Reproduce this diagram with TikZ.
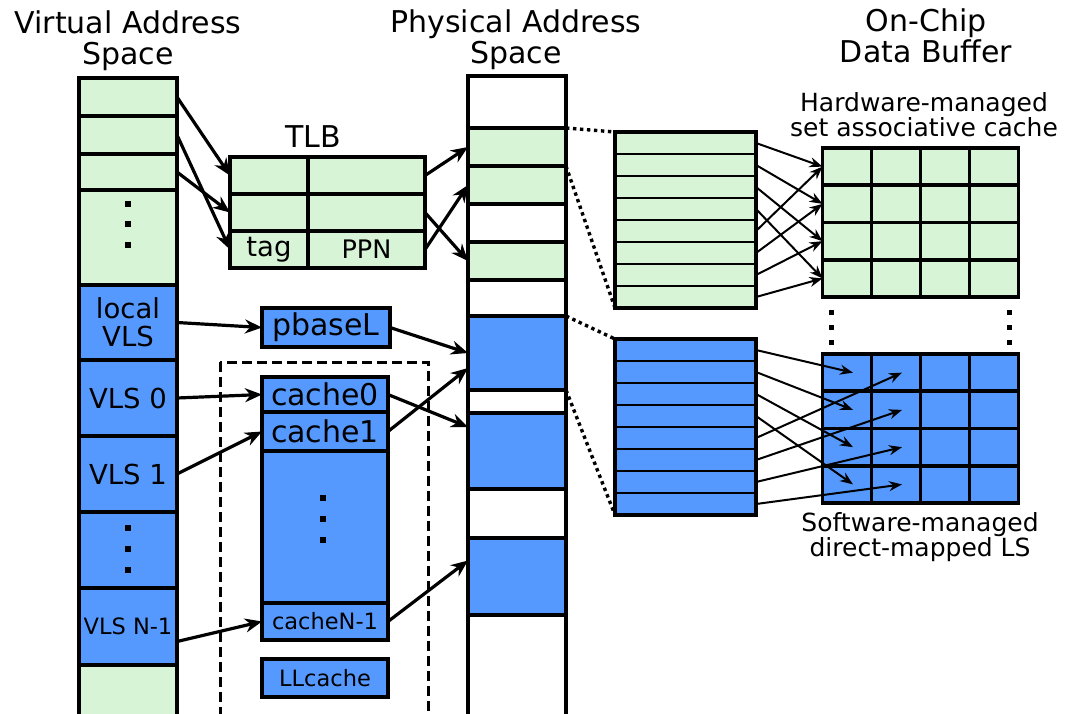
\documentclass[tikz,border=0pt]{standalone}
\usepackage{fontspec}
\setmainfont{DejaVu Sans}
\usetikzlibrary{
    positioning,      % For stacking the blocks of a column
    arrows.meta,      % For the arrow tips
    calc
}
\definecolor{cellgreen}{RGB}{215,244,215}
\definecolor{cellblue}{RGB}{85,153,255}

\begin{document}
\begin{tikzpicture}[
    x=1pt, y=-1pt,
    % Blocks of the columns, the TLB and the caches
    cell_style/.style={
        draw, line width=3.6pt,
        inner sep=0pt, outer sep=0pt,
        minimum width=98pt
    },
    green_cell/.style={cell_style, fill=cellgreen},
    blue_cell/.style={cell_style, fill=cellblue},
    white_cell/.style={cell_style, fill=white},
    % Rows of the on-chip buffers (thinner lines)
    buf_row/.style={
        draw, line width=2.2pt, inner sep=0pt, outer sep=0pt,
        minimum width=141pt, minimum height=22pt
    },
    grid_cell/.style={cell_style, minimum width=49pt, minimum height=37.25pt},
    % Text sizes
    title_font/.style={font=\fontsize{30}{31}\selectfont, align=center},
    sub_font/.style={font=\fontsize{25}{25}\selectfont, align=center},
    mid_font/.style={font=\fontsize{27.5}{28}\selectfont, align=center},
    small_font/.style={font=\fontsize{22.5}{23}\selectfont},
    % Connectors
    map_arrow/.style={
        line width=3.2pt,
        -{Stealth[length=17pt, width=14pt]}
    },
    grid_arrow/.style={
        line width=2pt,
        -{Stealth[length=13pt, width=10pt]}
    },
    zoom_line/.style={line width=3.4pt, dash pattern=on 3.4pt off 3.6pt},
    dashed_box/.style={line width=3pt, dash pattern=on 10pt off 5pt}
]
    \useasboundingbox (0,0) rectangle (1070,713);
    \clip (0,0) rectangle (1070,713);

    % 1. Titles (base = baseline of the last line)
    \node[title_font, anchor=base] (virt_title) at (128,64) {Virtual Address\\Space};
    \node[title_font, anchor=base] (phys_title) at (516,63) {Physical Address\\Space};
    \node[title_font, anchor=base] (chip_title) at (926,62) {On-Chip\\Data Buffer};

    % 2. Virtual address space column
    \node[green_cell, minimum height=38pt] (v1) at (128,97) {};
    \node[green_cell, minimum height=38pt, below=0pt of v1] (v2) {};
    \node[green_cell, minimum height=36pt, below=0pt of v2] (v3) {};
    \node[green_cell, minimum height=95pt, below=0pt of v3] (v4) {};
    \node[blue_cell, minimum height=75pt, below=0pt of v4, mid_font] (v5) {local\\VLS};
    \node[blue_cell, minimum height=76pt, below=0pt of v5, mid_font] (v6) {VLS 0};
    \node[blue_cell, minimum height=76pt, below=0pt of v6, mid_font] (v7) {VLS 1};
    \node[blue_cell, minimum height=76pt, below=0pt of v7] (v8) {};
    \node[blue_cell, minimum height=77pt, below=0pt of v8, small_font] (v9) {VLS N-1};
    \node[green_cell, minimum height=60pt, below=0pt of v9] (v10) {};

    % 3. Physical address space column
    \node[white_cell, minimum height=52pt] (p1) at (517,102) {};
    \node[green_cell, minimum height=38pt, below=0pt of p1] (p2) {};
    \node[green_cell, minimum height=38pt, below=0pt of p2] (p3) {};
    \node[white_cell, minimum height=38pt, below=0pt of p3] (p4) {};
    \node[green_cell, minimum height=38pt, below=0pt of p4] (p5) {};
    \node[white_cell, minimum height=36pt, below=0pt of p5] (p6) {};
    \node[blue_cell, minimum height=74pt, below=0pt of p6] (p7) {};
    \node[white_cell, minimum height=23pt, below=0pt of p7] (p8) {};
    \node[blue_cell, minimum height=76pt, below=0pt of p8] (p9) {};
    \node[white_cell, minimum height=49pt, below=0pt of p9] (p10) {};
    \node[blue_cell, minimum height=77pt, below=0pt of p10] (p11) {};
    \node[white_cell, minimum height=110pt, below=0pt of p11] (p12) {};

    % 4. TLB
    \node[title_font, anchor=base] (tlb_title) at (313,147) {TLB};
    \node[green_cell, minimum width=78pt, minimum height=37pt] (t1a) at (269,175.5) {};
    \node[green_cell, minimum width=117pt, minimum height=37pt, right=0pt of t1a] (t1b) {};
    \node[green_cell, minimum width=78pt, minimum height=37pt, below=0pt of t1a] (t2a) {};
    \node[green_cell, minimum width=117pt, minimum height=37pt, right=0pt of t2a] (t2b) {};
    \node[green_cell, minimum width=78pt, minimum height=37pt, below=0pt of t2a, mid_font] (t3a) {tag};
    \node[green_cell, minimum width=117pt, minimum height=37pt, right=0pt of t3a,
          font=\fontsize{25.5}{26}\selectfont] (t3b) {PPN};

    % 5. Base register and the per-VLS caches
    \node[blue_cell, minimum width=128pt, minimum height=39pt, title_font] (pbase) at (326,327.5) {pbaseL};
    \draw[dashed_box] (220,362) rectangle (428,725);
    \node[blue_cell, minimum width=126pt, minimum height=35pt, title_font] (cache0) at (325,394.5) {cache0};
    \node[blue_cell, minimum width=126pt, minimum height=39pt, below=0pt of cache0, title_font] (cache1) {cache1};
    \node[blue_cell, minimum width=126pt, minimum height=152pt, below=0pt of cache1] (cachedots) {};
    \node[blue_cell, minimum width=126pt, minimum height=37pt, below=0pt of cachedots, small_font] (cacheN) {cacheN-1};
    \node[blue_cell, minimum width=126pt, minimum height=38pt, small_font] (llcache) at (325,678) {LLcache};

    % 6. Vertical dots
    \foreach \y in {204,224,245} \fill (125,\y-3) rectangle +(6,6);
    \foreach \y in {528,549,570} \fill (125,\y-3) rectangle +(6,6);
    \foreach \y in {498,519,540} \fill (320,\y-3) rectangle +(6,6);
    \foreach \y in {312,327,342} {
        \fill (829,\y-2) rectangle +(4.5,4.5);
        \fill (1007,\y-2) rectangle +(4.5,4.5);
    }

    % 7. On-chip buffers
    \foreach \k in {1,...,8} {
        \node[buf_row, fill=cellgreen] (gb\k) at (685.5,{121+22*\k}) {};
        \node[buf_row, fill=cellblue] (bb\k) at (685.5,{328+22*\k}) {};
    }
    \draw[line width=3.6pt] (gb1.north west) rectangle (gb8.south east);
    \draw[line width=3.6pt] (bb1.north west) rectangle (bb8.south east);

    % 8. Hardware-managed cache and software-managed LS
    \foreach \r in {1,...,4} {
        \foreach \c in {1,...,4} {
            \node[grid_cell, fill=cellgreen] (hw-\r-\c) at ({798+49*\c},{129.4+37.25*\r}) {};
            \node[grid_cell, fill=cellblue] (sw-\r-\c) at ({798+49*\c},{335.4+37.25*\r}) {};
        }
    }
    \node[sub_font, anchor=base] (hw_label) at (924,136) {Hardware-managed\\set associative cache};
    \node[sub_font, anchor=base] (sw_label) at (920,556) {Software-managed\\direct-mapped LS};

    % 9. Translation arrows
    \draw[map_arrow] (v1.east) -- (t1a.west);
    \draw[map_arrow] (v2.east) -- (t3a.west);
    \draw[map_arrow] (v3.east) -- (t2a.west);
    \draw[map_arrow] (t1b.east) -- (p2.west);
    \draw[map_arrow] (t2b.east) -- (p5.west);
    \draw[map_arrow] (t3b.east) -- (p3.west);

    \draw[map_arrow] (v5.east) -- (pbase.west);
    \draw[map_arrow] (v6.east) -- (cache0.west);
    \draw[map_arrow] (v7.east) -- (cache1.west);
    \draw[map_arrow] ([yshift=-15pt]v9.east) -- (cacheN.west);
    \draw[map_arrow] (pbase.east) -- (p7.west);
    \draw[map_arrow] (cache0.east) -- ([yshift=24pt]p9.west);
    \draw[map_arrow] (cache1.east) -- ([yshift=-15pt]p7.west);
    \draw[map_arrow] (cacheN.east) -- ([yshift=16pt]p11.west);

    % 10. Zoom lines from physical pages to the buffers
    \draw[zoom_line] (p2.north east) -- (gb1.north west);
    \draw[zoom_line] (p2.south east) -- (gb8.south west);
    \draw[zoom_line] (p7.north east) -- (bb1.north west);
    \draw[zoom_line] (p7.south east) -- (bb8.south west);

    % 11. Buffer lines into the sets / slots
    \foreach \k/\r in {1/1,2/2,3/3,4/4,5/1,6/2,7/3,8/4}
        \draw[grid_arrow] (gb\k.east) -- (hw-\r-1.west);
    \foreach \k/\r/\c in {1/1/1,2/2/1,3/3/1,4/4/1,5/1/2,6/2/2,7/3/2,8/4/2}
        \draw[grid_arrow] (bb\k.east) -- ([xshift=6pt]sw-\r-\c.center);

\end{tikzpicture}
\end{document}
